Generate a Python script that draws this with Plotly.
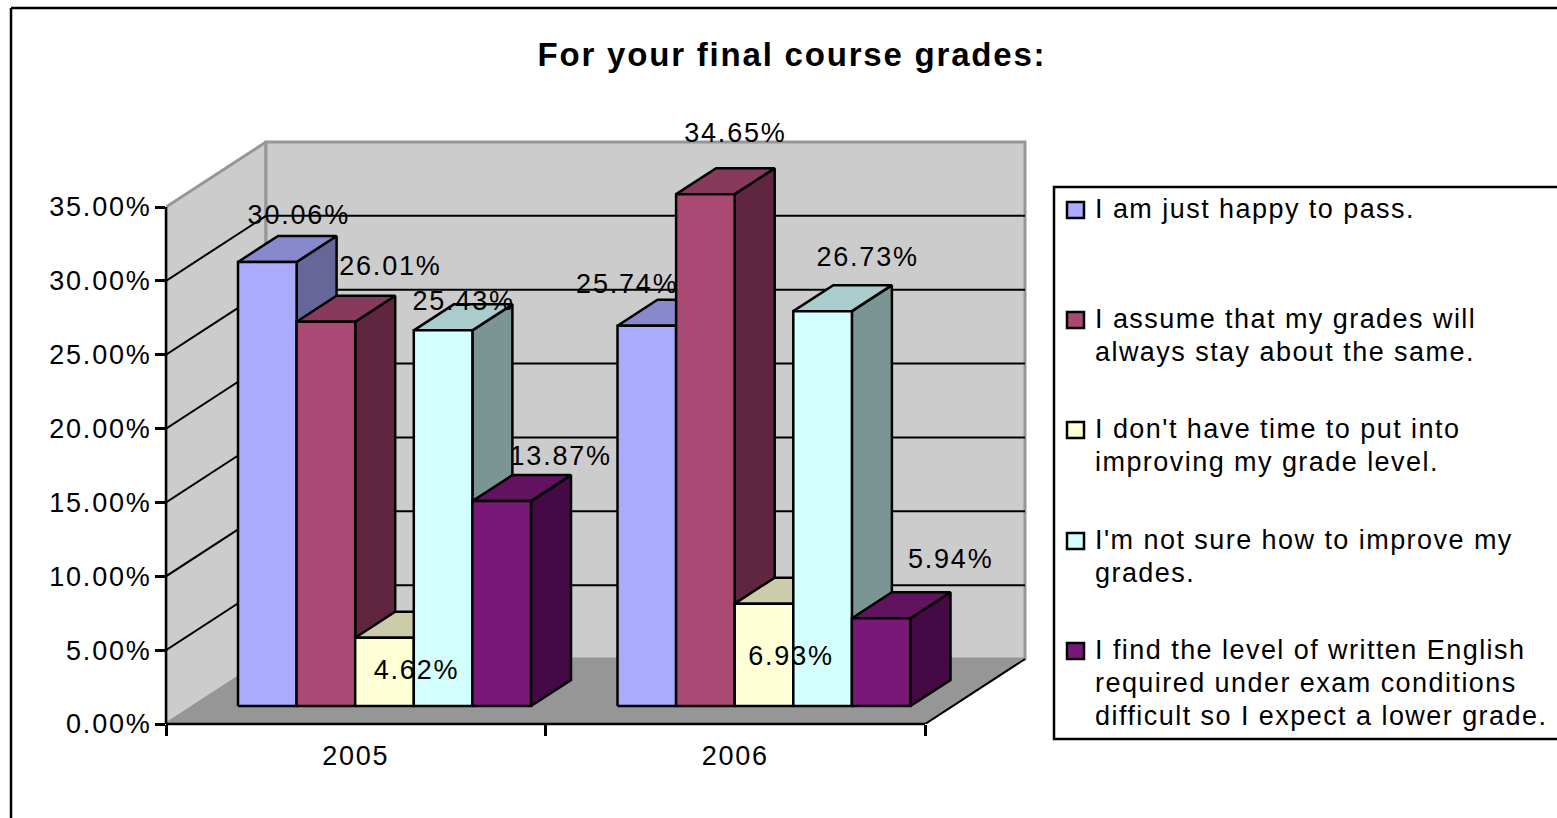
import plotly.graph_objects as go

# ---- data ----
years = ["2005", "2006"]
series_names = [
    "I am just happy to pass.",
    "I assume that my grades will always stay about the same.",
    "I don't have time to put into improving my grade level.",
    "I'm not sure how to improve my grades.",
    "I find the level of written English required under exam conditions difficult so I expect a lower grade.",
]
values_2005 = [30.06, 26.01, 4.62, 25.43, 13.87]
values_2006 = [25.74, 34.65, 6.93, 26.73, 5.94]
y_ticks = [0, 5, 10, 15, 20, 25, 30, 35]
y_tick_text = ["0.00%", "5.00%", "10.00%", "15.00%", "20.00%", "25.00%", "30.00%", "35.00%"]
legend_lines = [
    ["I am just happy to pass."],
    ["I assume that my grades will", "always stay about the same."],
    ["I don't have time to put into", "improving my grade level."],
    ["I'm not sure how to improve my", "grades."],
    ["I find the level of written English", "required under exam conditions", "difficult so I expect a lower grade."],
]

# ---- styling ----
FRONT = ["#AAAAFF", "#AA4A74", "#FFFFD5", "#D4FFFF", "#7A1877"]
TOP = ["#8888CC", "#883A5C", "#CCCCAA", "#AACCCC", "#61135F"]
SIDE = ["#666699", "#602640", "#99997F", "#7B9595", "#450A45"]
WALL, FLOOR, EDGE = "#CCCCCC", "#969696", "#969696"
FONT = "Liberation Sans"
FS = 27
LW = 2.5

W, H = 1557, 818
L, R, T, B = 166, 925, 207, 724   # front plane of the plot box
PLOT_R, PLOT_T = 1029, 110        # drawing area that also holds the depth and top label
PX_X = (R - L) / 2          # px per category
PX_Y = (B - T) / 35         # px per percent point
DX, DY = 100 / PX_X, 65 / PX_Y   # full depth of the plot box
BAR_W = 58.6 / PX_X
GAP = 43.5 / PX_X
SHIFT_X, SHIFT_Y = 28.5 / PX_X, 18 / PX_Y
BAR_DX, BAR_DY = 40 / PX_X, 26 / PX_Y
# label offset from the front-top centre of each bar (px)
LABEL_OFF = [
    [(31.5, -45), (64.5, -54), (32, 34), (20.5, -27), (59, -43)],
    [(-19.5, -40), (30, -59), (27, 55), (45, -52), (69.5, -57)],
]

fig = go.Figure()


def poly(xs, ys, fill, line="#000000", width=LW):
    fig.add_trace(go.Scatter(
        x=xs + xs[:1], y=ys + ys[:1], mode="lines", fill="toself", fillcolor=fill,
        line=dict(color=line, width=width), hoverinfo="skip", showlegend=False))


def path(xs, ys, color="#000000", width=2):
    fig.add_trace(go.Scatter(
        x=xs, y=ys, mode="lines", line=dict(color=color, width=width),
        hoverinfo="skip", showlegend=False))


# walls and floor
poly([0, DX, DX, 0], [0, DY, 35 + DY, 35], WALL, EDGE, 3)
poly([DX, 2 + DX, 2 + DX, DX], [DY, DY, 35 + DY, 35 + DY], WALL, EDGE, 3)
poly([0, 2, 2 + DX, DX], [0, 0, DY, DY], FLOOR, EDGE, 2)
path([2, 2 + DX], [0, DY])
for t in y_ticks[1:-1]:
    path([0, DX, 2 + DX], [t, t + DY, t + DY])

# bars
labels_x, labels_y, labels_t = [], [], []
for c, vals in enumerate([values_2005, values_2006]):
    for i, v in enumerate(vals):
        x0 = c + GAP + SHIFT_X + i * BAR_W
        x1 = x0 + BAR_W
        y0 = SHIFT_Y
        y1 = y0 + v
        poly([x1, x1 + BAR_DX, x1 + BAR_DX, x1], [y0, y0 + BAR_DY, y1 + BAR_DY, y1], SIDE[i])
        poly([x0, x1, x1 + BAR_DX, x0 + BAR_DX], [y1, y1, y1 + BAR_DY, y1 + BAR_DY], TOP[i])
        fig.add_trace(go.Scatter(
            x=[x0, x1, x1, x0, x0], y=[y0, y0, y1, y1, y0], mode="lines", fill="toself",
            fillcolor=FRONT[i], line=dict(color="#000000", width=LW), name=series_names[i],
            showlegend=False, hovertemplate=f"{years[c]}: {v:.2f}%<extra></extra>"))
        ox, oy = LABEL_OFF[c][i]
        labels_x.append((x0 + x1) / 2 + ox / PX_X)
        labels_y.append(y1 - oy / PX_Y)
        labels_t.append(f"{v:.2f}%")

fig.add_trace(go.Scatter(
    x=labels_x, y=labels_y, text=labels_t, mode="text", textposition="middle center",
    textfont=dict(family=FONT, size=FS, color="#000000"), hoverinfo="skip",
    showlegend=False, cliponaxis=False))


def px(x):
    return (x - L) / (PLOT_R - L)


def py(y):
    return (B - y) / (B - PLOT_T)


def hline(x0, x1, y, color="#000000", width=2.5):
    return dict(type="line", xref="paper", yref="paper", x0=px(x0), x1=px(x1), y0=py(y), y1=py(y),
                line=dict(color=color, width=width))


def vline(x, y0, y1, color="#000000", width=2.5):
    return dict(type="line", xref="paper", yref="paper", x0=px(x), x1=px(x), y0=py(y0), y1=py(y1),
                line=dict(color=color, width=width))


shapes = [
    vline(11, 8, 818), hline(11, 1557, 8),
    vline(L, T, B), hline(L, R, B),
    dict(type="rect", xref="paper", yref="paper", x0=px(1054), x1=px(1570), y0=py(187), y1=py(739),
         line=dict(color="#000000", width=2.5), fillcolor="#FFFFFF"),
]
annotations = []
legend_top = [202, 312, 422, 533, 643]
for i, lines in enumerate(legend_lines):
    shapes.append(dict(type="rect", xref="paper", yref="paper", x0=px(1067), x1=px(1084),
                       y0=py(legend_top[i]), y1=py(legend_top[i] + 16),
                       line=dict(color="#000000", width=2.5), fillcolor=FRONT[i]))
    for j, line in enumerate(lines):
        annotations.append(dict(
            xref="paper", yref="paper", x=px(1094), y=py(legend_top[i] + 7 + 33 * j),
            xanchor="left", yanchor="middle", align="left", text=line, showarrow=False,
            font=dict(family=FONT, size=FS, color="#000000"), borderpad=0))

fig.update_layout(
    width=W, height=H, autosize=False,
    margin=dict(l=L, r=W - PLOT_R, t=PLOT_T, b=H - B),
    paper_bgcolor="#FFFFFF", plot_bgcolor="rgba(0,0,0,0)",
    showlegend=False, shapes=shapes, annotations=annotations,
    title=dict(text="<b>For your final course grades:</b>", x=792 / W, xanchor="center",
               y=1 - 54 / H, yanchor="middle", xref="container", yref="container",
               font=dict(family=FONT, size=33, color="#000000")),
    xaxis=dict(range=[0, 2 + (PLOT_R - R) / PX_X], tickmode="array", tickvals=[0.5, 1.5],
               ticktext=years, ticks="", showgrid=False, zeroline=False, showline=False,
               minor=dict(tickmode="array", tickvals=[0, 1, 2], ticks="outside", ticklen=11,
                          tickwidth=2.5, tickcolor="#000000", showgrid=False),
               tickfont=dict(family=FONT, size=FS, color="#000000"), ticklabelstandoff=13),
    yaxis=dict(range=[0, (B - PLOT_T) / PX_Y], tickmode="array", tickvals=y_ticks, ticktext=y_tick_text,
               ticks="outside", ticklen=10, tickwidth=2.5, tickcolor="#000000", showgrid=False,
               zeroline=False, showline=False, ticklabelstandoff=-2,
               tickfont=dict(family=FONT, size=FS, color="#000000")),
)
POST = ("document.body.style.margin='0';"
        "document.querySelectorAll('svg text').forEach(function(t){t.style.letterSpacing='1.8px';});"
        "document.querySelectorAll('svg text.annotation-text').forEach(function(t){t.style.letterSpacing='1.45px';});"
        "document.querySelectorAll('svg text.gtitle').forEach(function(t){t.style.letterSpacing='1.8px';});")
fig.write_html("out.html", post_script=POST, config=dict(displayModeBar=False))
